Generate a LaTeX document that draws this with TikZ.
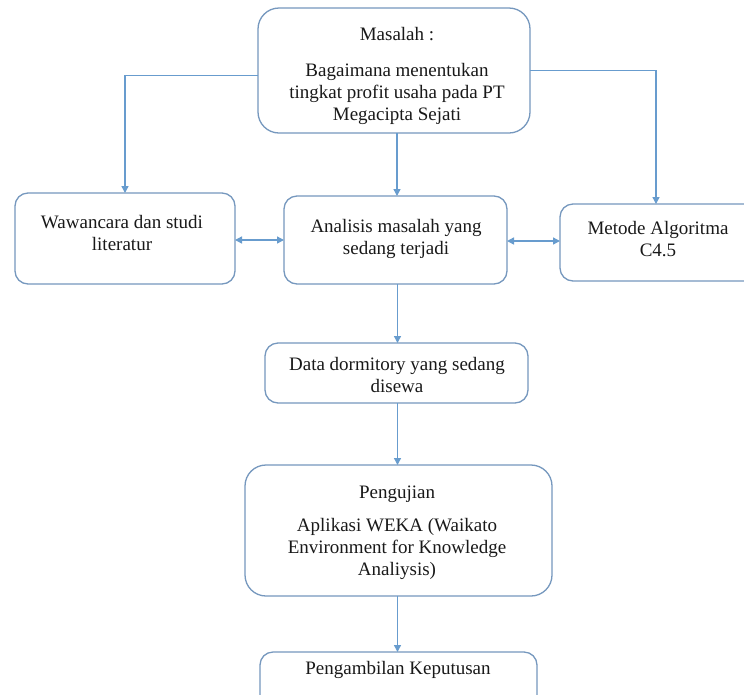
\documentclass[tikz,border=0pt]{standalone}
\usepackage{fontspec}
\setmainfont{Liberation Serif}
\usetikzlibrary{arrows.meta}
\definecolor{boxline}{RGB}{118,152,190}
\definecolor{flowline}{RGB}{104,156,206}
\definecolor{txt}{RGB}{25,25,25}
\tikzset{
  x=1pt, y=-1pt,
  panel/.style={draw=boxline, line width=1.3pt, rounded corners=13pt,
    inner sep=0pt, outer sep=0pt, fill=white},
  bigpanel/.style={panel, rounded corners=21pt},
  caption/.style={text=txt, align=center, inner sep=0pt,
    font=\fontsize{19}{22}\selectfont},
  flow/.style={draw=flowline, line width=1.4pt,
    -{Triangle[length=7pt,width=7pt]}},
  flowboth/.style={draw=flowline, line width=1.4pt,
    {Triangle[length=7pt,width=7pt]}-{Triangle[length=7pt,width=7pt]}}
}
\begin{document}
\begin{tikzpicture}
\useasboundingbox (0,0) rectangle (744,694);
\fill[white] (0,0) rectangle (744,694);

% boxes
\node[bigpanel, minimum width=272pt, minimum height=125pt] (top)   at (394,70.5) {};
\node[panel,    minimum width=220pt, minimum height=91pt]  (left)  at (125,238.5) {};
\node[panel,    minimum width=223pt, minimum height=88pt]  (mid)   at (395.5,240) {};
\node[panel,    minimum width=200pt, minimum height=77pt]  (right) at (660,242.5) {};
\node[panel,    minimum width=263pt, minimum height=60pt]  (data)  at (396.5,373) {};
\node[bigpanel, minimum width=307pt, minimum height=131pt] (test)  at (398.5,530.5) {};
\node[panel,    minimum width=277pt, minimum height=63pt]  (dec)   at (398.5,683.5) {};

% texts
\node[caption] (t1) at (397,34) {Masalah :};
\node[caption] (t2) at (397,94) {Bagaimana menentukan\\tingkat profit usaha pada PT\\Megacipta Sejati};
\node[caption] (l1) at (122,233) {Wawancara dan studi\\literatur};
\node[caption] (m1) at (396,239) {Analisis masalah yang\\sedang terjadi};
\node[caption] (r1) at (658,239) {Metode Algoritma\\C4.5};
\node[caption] (d1) at (397,375) {Data dormitory yang sedang\\disewa};
\node[caption] (p1) at (397,494) {Pengujian};
\node[caption] (p2) at (397,549) {Aplikasi WEKA (Waikato\\Environment for Knowledge\\Analiysis)};
\node[caption] (k1) at (398,670) {Pengambilan Keputusan};

% connectors
\draw[flow] ([yshift=-5pt]top.west) -| (left.north);
\draw[flow] (top.east) -| ([xshift=-4pt]right.north);
\draw[flow] ([xshift=3pt]top.south) -- ([xshift=3pt]top.south |- mid.north);
\draw[flowboth] ([yshift=-1.5pt]left.east) -- ([yshift=-1.5pt]left.east -| mid.west);
\draw[flowboth] ([yshift=-1pt]mid.east) -- ([yshift=-1pt]mid.east -| right.west);
\draw[flow] ([xshift=2pt]mid.south) -- ([xshift=2pt]mid.south |- data.north);
\draw[flow] ([xshift=1pt]data.south) -- ([xshift=1pt]data.south |- test.north);
\draw[flow] ([xshift=-1pt]test.south) -- ([xshift=-1pt]test.south |- dec.north);
\end{tikzpicture}
\end{document}
